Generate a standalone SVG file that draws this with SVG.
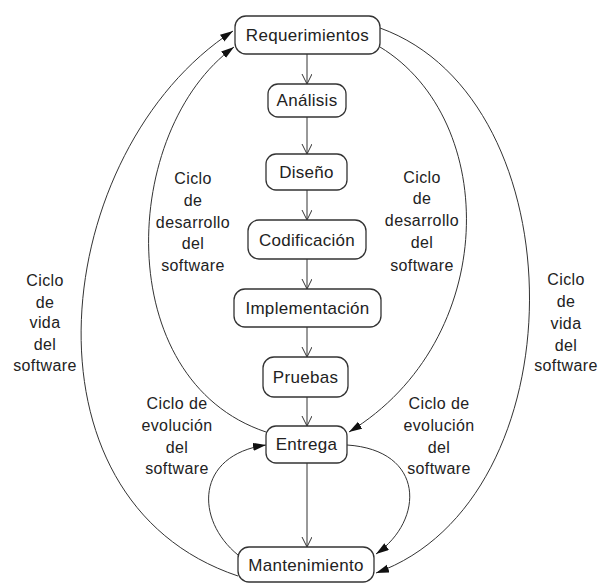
<svg xmlns="http://www.w3.org/2000/svg" width="600" height="583" viewBox="0 0 600 583">
<style>
.box{fill:#fff;stroke:#333;stroke-width:1.3}
.t{font-family:"Liberation Sans",Arial,sans-serif;font-size:17px;fill:#222;text-anchor:middle;letter-spacing:0.3px}
.l{font-family:"Liberation Sans",Arial,sans-serif;font-size:16px;fill:#222;text-anchor:middle;letter-spacing:0.4px}
.c{fill:none;stroke:#333;stroke-width:1}
</style>
<defs>
<marker id="open" markerUnits="userSpaceOnUse" markerWidth="12" markerHeight="12" refX="10" refY="5" orient="auto">
<path d="M0,0 L10,5 L0,10" fill="none" stroke="#333" stroke-width="1"/>
</marker>
<marker id="fill" markerUnits="userSpaceOnUse" markerWidth="14" markerHeight="10" refX="13" refY="4" orient="auto">
<path d="M0,0 L13,4 L0,8 z" fill="#111"/>
</marker>
</defs>
<rect width="600" height="583" fill="#fff"/>
<g id="connectors">
<line class="c" x1="307" y1="54" x2="307" y2="84" marker-end="url(#open)"/>
<line class="c" x1="307" y1="117" x2="307" y2="154" marker-end="url(#open)"/>
<line class="c" x1="307" y1="190" x2="307" y2="220" marker-end="url(#open)"/>
<line class="c" x1="307" y1="259" x2="307" y2="289" marker-end="url(#open)"/>
<line class="c" x1="307" y1="327" x2="307" y2="357" marker-end="url(#open)"/>
<line class="c" x1="307" y1="397" x2="307" y2="426" marker-end="url(#open)"/>
<line class="c" x1="307" y1="463" x2="307" y2="547" marker-end="url(#open)"/>
<path class="c" d="M238,576 C10,500 50,150 233,31" marker-end="url(#fill)"/>
<path class="c" d="M266,432 C110,380 120,130 234,47" marker-end="url(#fill)"/>
<path class="c" d="M380,47 C500,120 500,340 349,432" marker-end="url(#fill)"/>
<path class="c" d="M380,28 C580,100 580,500 376,573" marker-end="url(#fill)"/>
<path class="c" d="M238,555 C195,520 195,455 266,445" marker-end="url(#fill)"/>
<path class="c" d="M347,445 C425,450 425,520 376,554" marker-end="url(#fill)"/>
</g>
<g id="requerimientos"><rect class="box" x="235" y="16" width="145" height="38" rx="11"/><text class="t" x="307.5" y="41">Requerimientos</text></g>
<g id="analisis"><rect class="box" x="268" y="84" width="78" height="33" rx="10"/><text class="t" x="307" y="106">Análisis</text></g>
<g id="diseno"><rect class="box" x="266" y="154" width="81" height="36" rx="10"/><text class="t" x="306.5" y="178">Diseño</text></g>
<g id="codificacion"><rect class="box" x="248" y="220" width="118" height="39" rx="11"/><text class="t" x="307" y="246">Codificación</text></g>
<g id="implementacion"><rect class="box" x="234" y="289" width="147" height="38" rx="11"/><text class="t" x="307.5" y="314">Implementación</text></g>
<g id="pruebas"><rect class="box" x="263" y="357" width="85" height="40" rx="11"/><text class="t" x="305.5" y="383">Pruebas</text></g>
<g id="entrega"><rect class="box" x="266" y="426" width="81" height="37" rx="10"/><text class="t" x="306.5" y="450">Entrega</text></g>
<g id="mantenimiento"><rect class="box" x="238" y="547" width="136" height="35" rx="11"/><text class="t" x="306" y="571">Mantenimiento</text></g>
<g id="labels">
<text class="l" x="193"><tspan x="193" y="184">Ciclo</tspan><tspan x="193" y="206">de</tspan><tspan x="193" y="228">desarrollo</tspan><tspan x="193" y="249">del</tspan><tspan x="193" y="271">software</tspan></text>
<text class="l" x="422"><tspan x="422" y="183">Ciclo</tspan><tspan x="422" y="204">de</tspan><tspan x="422" y="226">desarrollo</tspan><tspan x="422" y="248">del</tspan><tspan x="422" y="271">software</tspan></text>
<text class="l" x="45"><tspan x="45" y="286">Ciclo</tspan><tspan x="45" y="308">de</tspan><tspan x="45" y="328">vida</tspan><tspan x="45" y="350">del</tspan><tspan x="45" y="371">software</tspan></text>
<text class="l" x="566"><tspan x="566" y="285">Ciclo</tspan><tspan x="566" y="307">de</tspan><tspan x="566" y="329">vida</tspan><tspan x="566" y="351">del</tspan><tspan x="566" y="371">software</tspan></text>
<text class="l" x="177"><tspan x="177" y="409">Ciclo de</tspan><tspan x="177" y="431">evolución</tspan><tspan x="177" y="453">del</tspan><tspan x="177" y="474">software</tspan></text>
<text class="l" x="439"><tspan x="439" y="409">Ciclo de</tspan><tspan x="439" y="431">evolución</tspan><tspan x="439" y="453">del</tspan><tspan x="439" y="474">software</tspan></text>
</g>
</svg>
